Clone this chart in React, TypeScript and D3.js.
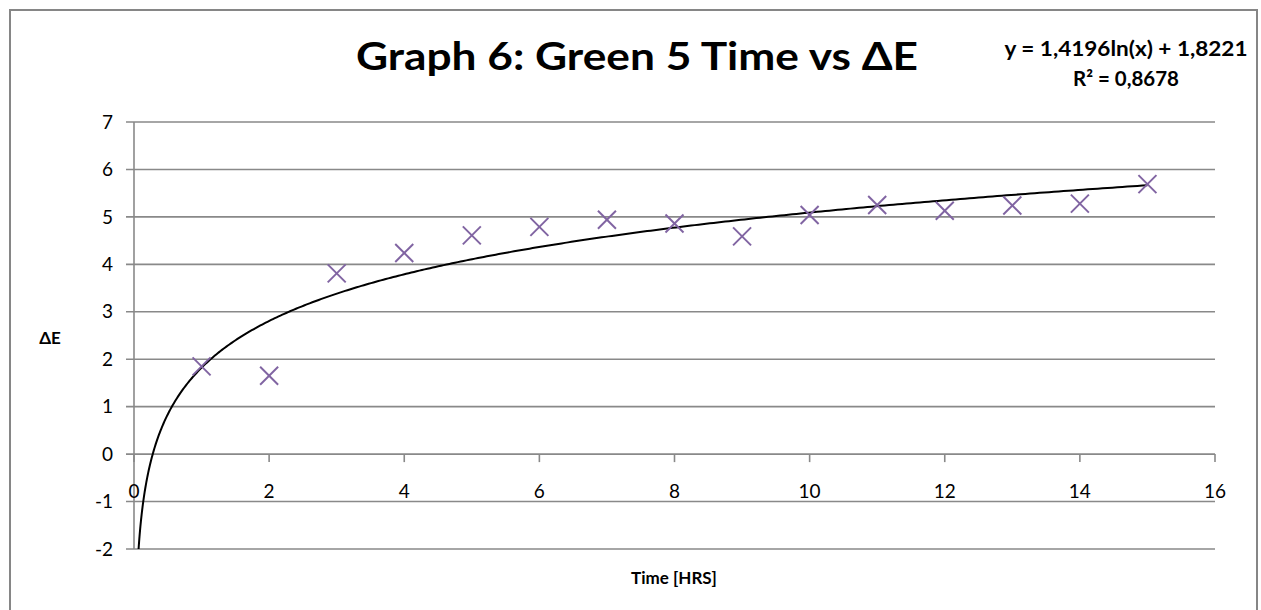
import React from "react";
import * as d3 from "d3";

const timeHrs = [1, 2, 3, 4, 5, 6, 7, 8, 9, 10, 11, 12, 13, 14, 15];
const deltaE = [1.85, 1.65, 3.81, 4.24, 4.61, 4.79, 4.94, 4.86, 4.59, 5.04, 5.25, 5.13, 5.24, 5.28, 5.69];
const xTicks = [0, 2, 4, 6, 8, 10, 12, 14, 16];
const yTicks = [-2, -1, 0, 1, 2, 3, 4, 5, 6, 7];
const trendA = 1.4196;
const trendB = 1.8221;
const titleText = "Graph 6: Green 5 Time vs ΔE";
const eqText = "y = 1,4196ln(x) + 1,8221";
const r2Value = "0,8678";
const xTitle = "Time [HRS]";
const yTitle = "ΔE";

const W = 1261;
const H = 610;
const FONT = "Lato, 'Open Sans', sans-serif";

export default function App() {
  const x = d3.scaleLinear().domain([0, 16]).range([134, 1215]);
  const y = d3.scaleLinear().domain([-2, 7]).range([549, 122]);
  const gridColor = "#898989";
  const markerColor = "#8064A2";

  const xStart = Math.exp((-2 - trendB) / trendA);
  const trendPts: [number, number][] = [];
  const n = 400;
  for (let i = 0; i <= n; i++) {
    const t = i / n;
    const xv = xStart + (15 - xStart) * t * t;
    trendPts.push([xv, trendA * Math.log(xv) + trendB]);
  }
  const line = d3
    .line<[number, number]>()
    .x((d) => x(d[0]))
    .y((d) => y(d[1]));

  const m = 9;

  return (
    <svg
      width={W}
      height={H}
      style={{ position: "absolute", left: 0, top: 0, background: "#fff" }}
      fontFamily={FONT}
    >
      <rect x={0} y={0} width={W} height={H} fill="#fff" />
      <rect x={10} y={10} width={1247} height={620} fill="none" stroke="#868686" strokeWidth={2} />

      {yTicks.map((t) => (
        <line
          key={"g" + t}
          x1={x(0) - 8}
          x2={x(16)}
          y1={y(t)}
          y2={y(t)}
          stroke={gridColor}
          strokeWidth={1.6}
        />
      ))}
      <line x1={x(0)} x2={x(0)} y1={y(7)} y2={y(-2)} stroke={gridColor} strokeWidth={1.6} />
      {xTicks.map((t) => (
        <line
          key={"xt" + t}
          x1={x(t)}
          x2={x(t)}
          y1={y(0)}
          y2={y(0) + 8}
          stroke={gridColor}
          strokeWidth={1.6}
        />
      ))}

      {yTicks.map((t) => (
        <text
          key={"yl" + t}
          x={x(0) - 21}
          y={y(t)}
          dy="0.35em"
          textAnchor="end"
          fontSize={19}
          fill="#000"
        >
          {t}
        </text>
      ))}
      {xTicks.map((t) => (
        <text
          key={"xl" + t}
          x={x(t)}
          y={y(0) + 37}
          dy="0.35em"
          textAnchor="middle"
          fontSize={19}
          fill="#000"
        >
          {t}
        </text>
      ))}

      <path d={line(trendPts) || ""} fill="none" stroke="#000" strokeWidth={2} />

      {timeHrs.map((tv, i) => {
        const cx = x(tv);
        const cy = y(deltaE[i]);
        return (
          <g key={"m" + i} stroke={markerColor} strokeWidth={2}>
            <line x1={cx - m} y1={cy - m} x2={cx + m} y2={cy + m} />
            <line x1={cx - m} y1={cy + m} x2={cx + m} y2={cy - m} />
          </g>
        );
      })}

      <text x={637} y={70} textAnchor="middle" fontSize={39} fontWeight="bold" fill="#000" textLength={562} lengthAdjust="spacingAndGlyphs">
        {titleText}
      </text>
      <text x={1126} y={56} textAnchor="middle" fontSize={21} fontWeight="bold" fill="#000" textLength={243} lengthAdjust="spacingAndGlyphs">
        {eqText}
      </text>
      <text x={1126} y={86} textAnchor="middle" fontSize={21} fontWeight="bold" fill="#000" textLength={106} lengthAdjust="spacingAndGlyphs">
        {"R² = " + r2Value}
      </text>

      <text x={674} y={584} textAnchor="middle" fontSize={17} fontWeight="bold" fill="#000">
        {xTitle}
      </text>
      <text x={50} y={344} textAnchor="middle" fontSize={17} fontWeight="bold" fill="#000">
        {yTitle}
      </text>
    </svg>
  );
}
